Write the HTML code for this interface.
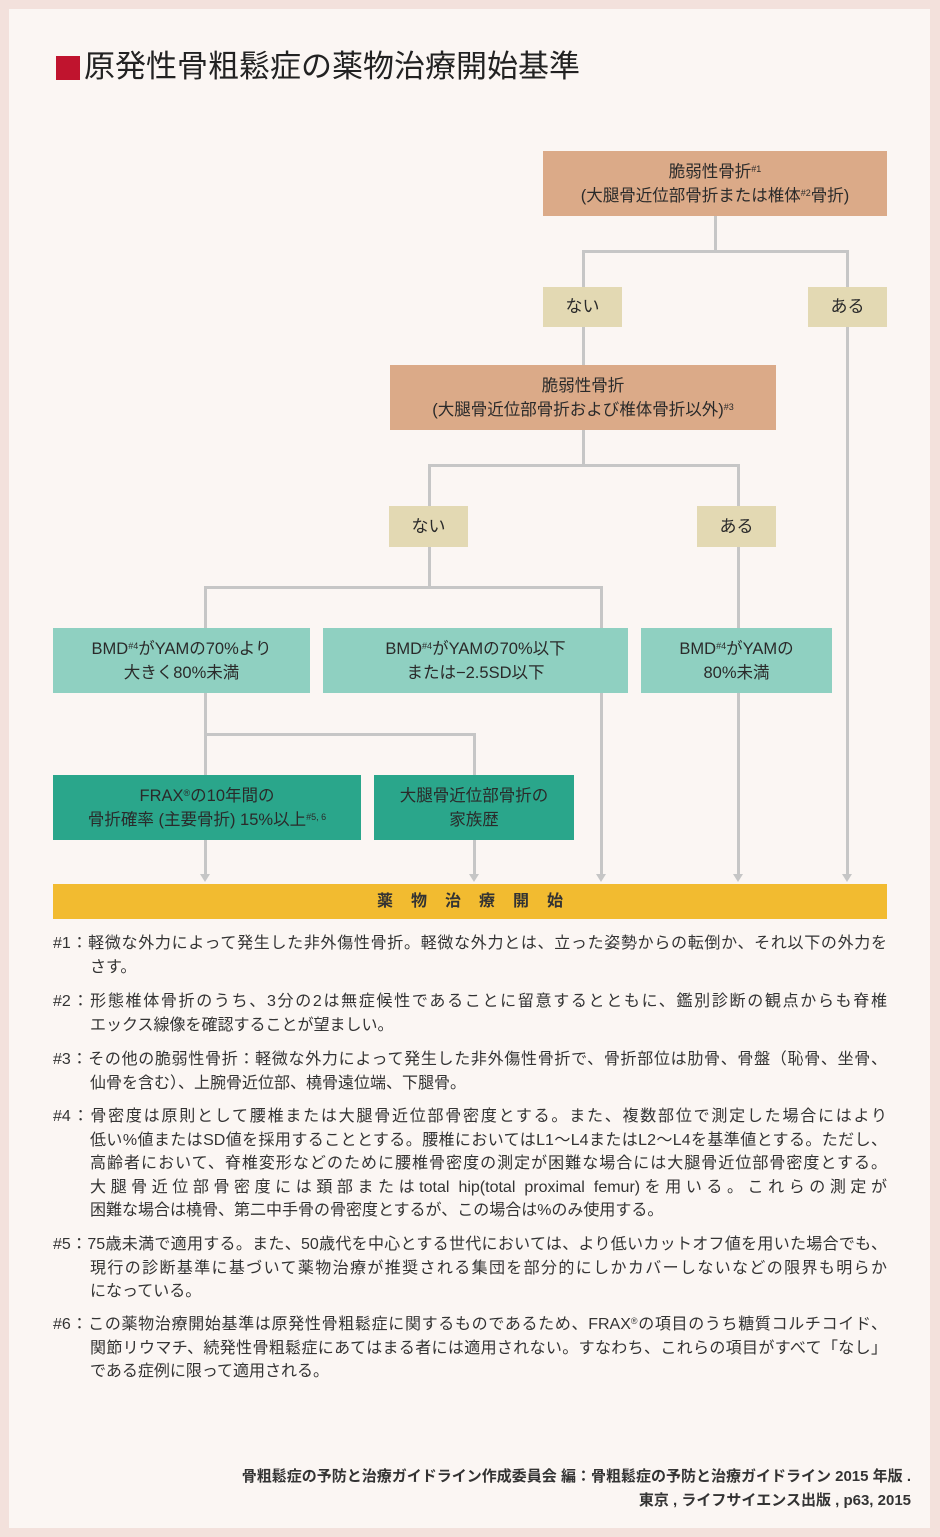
<!DOCTYPE html>
<html><head><meta charset="utf-8"><style>
*{margin:0;padding:0;box-sizing:border-box}
body{width:940px;height:1537px;background:#f3e1dc;position:relative;overflow:hidden;font-family:"Liberation Sans","Noto Sans CJK JP",sans-serif;color:#333}
#in{position:absolute;left:9px;top:9px;width:921px;height:1519px;background:#fbf6f3}
.a{position:absolute}
.b{position:absolute;display:flex;flex-direction:column;align-items:center;justify-content:center;text-align:center;font-size:16.5px;line-height:24px;color:#2a2a2a;white-space:nowrap}
.t{background:#dbaa88}.l{background:#e3d9b3;font-size:17px}.g{background:#8fd0c1}.d{background:#2aa68b}
sup{font-size:9px;vertical-align:top;position:relative;top:-3px}
.h{position:absolute;background:#c6c6c6;height:3px}
.v{position:absolute;background:#c6c6c6;width:3px}
.ar{position:absolute;width:0;height:0;border-left:5px solid transparent;border-right:5px solid transparent;border-top:8px solid #c6c6c6}
.n{position:absolute;left:53px;width:834px;font-size:16px;line-height:23.5px;white-space:nowrap;color:#333}
.n div{padding-left:37px;width:834px}
.n div:first-child{padding-left:0}
.n div.j{text-align:justify;text-align-last:justify;text-justify:inter-character}
</style></head><body><div id="in"></div>
<div class="a" style="left:56px;top:56px;width:24px;height:24px;background:#c0142e"></div>
<div class="a" style="left:84px;top:47px;font-size:31px;line-height:40px;color:#222">原発性骨粗鬆症の薬物治療開始基準</div>

<div class="v" style="left:714px;top:216px;height:36px"></div>
<div class="h" style="left:582px;top:250px;width:267px"></div>
<div class="v" style="left:582px;top:250px;height:37px"></div>
<div class="v" style="left:846px;top:250px;height:37px"></div>
<div class="v" style="left:582px;top:327px;height:38px"></div>
<div class="v" style="left:846px;top:327px;height:547px"></div><div class="ar" style="left:842px;top:874px"></div>
<div class="v" style="left:582px;top:430px;height:36px"></div>
<div class="h" style="left:428px;top:464px;width:312px"></div>
<div class="v" style="left:428px;top:464px;height:42px"></div>
<div class="v" style="left:737px;top:464px;height:42px"></div>
<div class="v" style="left:428px;top:547px;height:41px"></div>
<div class="h" style="left:204px;top:586px;width:399px"></div>
<div class="v" style="left:204px;top:586px;height:42px"></div>
<div class="v" style="left:600px;top:586px;height:42px"></div>
<div class="v" style="left:737px;top:547px;height:81px"></div>
<div class="v" style="left:204px;top:693px;height:82px"></div>
<div class="h" style="left:204px;top:733px;width:272px"></div>
<div class="v" style="left:473px;top:733px;height:42px"></div>
<div class="v" style="left:600px;top:693px;height:181px"></div><div class="ar" style="left:596px;top:874px"></div>
<div class="v" style="left:737px;top:693px;height:181px"></div><div class="ar" style="left:733px;top:874px"></div>
<div class="v" style="left:204px;top:840px;height:34px"></div><div class="ar" style="left:200px;top:874px"></div>
<div class="v" style="left:473px;top:840px;height:34px"></div><div class="ar" style="left:469px;top:874px"></div>

<div class="b t" style="left:543px;top:151px;width:344px;height:65px"><div>脆弱性骨折<sup>#1</sup></div><div>(大腿骨近位部骨折または椎体<sup>#2</sup>骨折)</div></div>
<div class="b l" style="left:543px;top:287px;width:79px;height:40px">ない</div>
<div class="b l" style="left:808px;top:287px;width:79px;height:40px">ある</div>
<div class="b t" style="left:390px;top:365px;width:386px;height:65px"><div>脆弱性骨折</div><div>(大腿骨近位部骨折および椎体骨折以外)<sup>#3</sup></div></div>
<div class="b l" style="left:389px;top:506px;width:79px;height:41px">ない</div>
<div class="b l" style="left:697px;top:506px;width:79px;height:41px">ある</div>
<div class="b g" style="left:53px;top:628px;width:257px;height:65px"><div>BMD<sup>#4</sup>がYAMの70%より</div><div>大きく80%未満</div></div>
<div class="b g" style="left:323px;top:628px;width:305px;height:65px"><div>BMD<sup>#4</sup>がYAMの70%以下</div><div>または−2.5SD以下</div></div>
<div class="b g" style="left:641px;top:628px;width:191px;height:65px"><div>BMD<sup>#4</sup>がYAMの</div><div>80%未満</div></div>
<div class="b d" style="left:53px;top:775px;width:308px;height:65px"><div>FRAX<sup>®</sup>の10年間の</div><div>骨折確率 (主要骨折) 15%以上<sup>#5, 6</sup></div></div>
<div class="b d" style="left:374px;top:775px;width:200px;height:65px"><div>大腿骨近位部骨折の</div><div>家族歴</div></div>
<div class="b" style="left:53px;top:884px;width:834px;height:35px;background:#f2bb30;font-weight:bold;font-size:16px;letter-spacing:18px;padding-left:18px;color:#333">薬物治療開始</div>

<div class="n" style="top:932px"><div class="j">#1：軽微な外力によって発生した非外傷性骨折。軽微な外力とは、立った姿勢からの転倒か、それ以下の外力を</div><div>さす。</div></div>
<div class="n" style="top:990px"><div class="j">#2：形態椎体骨折のうち、3分の2は無症候性であることに留意するとともに、鑑別診断の観点からも脊椎</div><div>エックス線像を確認することが望ましい。</div></div>
<div class="n" style="top:1048px"><div class="j">#3：その他の脆弱性骨折：軽微な外力によって発生した非外傷性骨折で、骨折部位は肋骨、骨盤（恥骨、坐骨、</div><div>仙骨を含む）、上腕骨近位部、橈骨遠位端、下腿骨。</div></div>
<div class="n" style="top:1105px"><div class="j">#4：骨密度は原則として腰椎または大腿骨近位部骨密度とする。また、複数部位で測定した場合にはより</div><div class="j">低い%値またはSD値を採用することとする。腰椎においてはL1〜L4またはL2〜L4を基準値とする。ただし、</div><div class="j">高齢者において、脊椎変形などのために腰椎骨密度の測定が困難な場合には大腿骨近位部骨密度とする。</div><div class="j">大腿骨近位部骨密度には頚部またはtotal hip(total proximal femur)を用いる。これらの測定が</div><div>困難な場合は橈骨、第二中手骨の骨密度とするが、この場合は%のみ使用する。</div></div>
<div class="n" style="top:1233px"><div class="j">#5：75歳未満で適用する。また、50歳代を中心とする世代においては、より低いカットオフ値を用いた場合でも、</div><div class="j">現行の診断基準に基づいて薬物治療が推奨される集団を部分的にしかカバーしないなどの限界も明らか</div><div>になっている。</div></div>
<div class="n" style="top:1313px"><div class="j">#6：この薬物治療開始基準は原発性骨粗鬆症に関するものであるため、FRAX<sup>®</sup>の項目のうち糖質コルチコイド、</div><div class="j">関節リウマチ、続発性骨粗鬆症にあてはまる者には適用されない。すなわち、これらの項目がすべて「なし」</div><div>である症例に限って適用される。</div></div>

<div class="a" style="right:29px;top:1465px;text-align:right;font-size:15px;line-height:24px;font-weight:bold;color:#333;white-space:nowrap">骨粗鬆症の予防と治療ガイドライン作成委員会 編：骨粗鬆症の予防と治療ガイドライン 2015 年版 .<br>東京 , ライフサイエンス出版 , p63, 2015</div>
</body></html>
